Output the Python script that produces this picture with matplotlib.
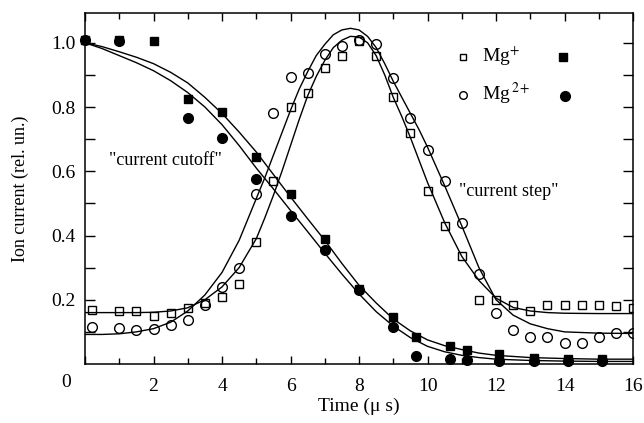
import matplotlib
matplotlib.use("Agg")
import matplotlib.pyplot as plt

plt.rcParams.update({
    "font.family": "Liberation Serif", "mathtext.fontset": "stix",
    "font.size": 13, "axes.linewidth": 1.1,
})

# ---- measured points (time in us, ion current rel. un.) ----
t_open = [0.2, 1.0, 1.5, 2.0, 2.5, 3.0, 3.5, 4.0, 4.5, 5.0, 5.5, 6.0, 6.5, 7.0, 7.5, 8.0,
          8.5, 9.0, 9.5, 10.0, 10.5, 11.0, 11.5, 12.0, 12.5, 13.0, 13.5, 14.0, 14.5, 15.0, 15.5, 16.0]
mg1_step = [0.168, 0.165, 0.165, 0.15, 0.16, 0.175, 0.19, 0.21, 0.25, 0.38, 0.57, 0.80, 0.845, 0.92, 0.96, 1.005,
            0.96, 0.83, 0.72, 0.54, 0.43, 0.335, 0.20, 0.20, 0.185, 0.165, 0.185, 0.185, 0.185, 0.185, 0.18, 0.175]
mg2_step = [0.115, 0.113, 0.105, 0.11, 0.12, 0.137, 0.185, 0.24, 0.30, 0.53, 0.78, 0.895, 0.905, 0.965, 0.99, 1.01,
            0.995, 0.89, 0.765, 0.665, 0.57, 0.44, 0.28, 0.16, 0.105, 0.085, 0.085, 0.065, 0.065, 0.083, 0.095, 0.095]

t_mg1_cut = [0, 1, 2, 3, 4, 5, 6, 7, 8, 9, 9.65, 10.65, 11.15, 12.1, 13.1, 14.1, 15.1]
mg1_cut = [1.01, 1.01, 1.005, 0.825, 0.785, 0.645, 0.53, 0.39, 0.235, 0.145, 0.085, 0.055, 0.045, 0.03, 0.02, 0.015, 0.015]
t_mg2_cut = [0, 1, 3, 4, 5, 6, 7, 8, 9, 9.65, 10.65, 11.15, 12.1, 13.1, 14.1, 15.1]
mg2_cut = [1.01, 1.005, 0.765, 0.705, 0.575, 0.46, 0.355, 0.23, 0.115, 0.025, 0.017, 0.012, 0.01, 0.008, 0.008, 0.008]

# ---- fitted curves ----
t_fit_step = [0, 0.5, 1, 1.5, 2, 2.5, 3, 3.5, 4, 4.5, 5, 5.25, 5.5, 5.75, 6, 6.25, 6.5, 6.75, 7, 7.25, 7.5,
              7.75, 8, 8.25, 8.5, 8.75, 9, 9.25, 9.5, 9.75, 10, 10.5, 11, 11.5, 12, 12.5, 13, 13.5, 14, 15, 16]
fit_mg1_step = [0.16, 0.16, 0.16, 0.16, 0.161, 0.165, 0.175, 0.2, 0.24, 0.3, 0.39, 0.455, 0.525, 0.6, 0.68, 0.76,
                0.835, 0.895, 0.945, 0.985, 1.008, 1.02, 1.018, 1.0, 0.96, 0.9, 0.83, 0.77, 0.705, 0.635, 0.565,
                0.44, 0.335, 0.26, 0.205, 0.176, 0.165, 0.16, 0.158, 0.157, 0.157]
fit_mg2_step = [0.092, 0.092, 0.094, 0.1, 0.11, 0.13, 0.165, 0.215, 0.285, 0.385, 0.515, 0.58, 0.65, 0.72, 0.79, 0.855,
                0.91, 0.96, 0.995, 1.025, 1.04, 1.045, 1.04, 1.02, 0.985, 0.935, 0.88, 0.83, 0.78, 0.73, 0.675,
                0.555, 0.43, 0.3, 0.2, 0.152, 0.125, 0.11, 0.1, 0.096, 0.095]

t_fit_cut = [0, 0.5, 1, 1.5, 2, 2.5, 3, 3.5, 4, 4.5, 5, 5.5, 6, 6.5, 7, 7.5, 8, 8.5, 9, 9.5, 10,
             10.5, 11, 11.5, 12, 13, 14, 15, 16]
fit_mg1_cut = [1.0, 0.988, 0.972, 0.955, 0.935, 0.908, 0.875, 0.83, 0.78, 0.722, 0.66, 0.59, 0.52, 0.452, 0.385,
               0.313, 0.245, 0.19, 0.14, 0.103, 0.075, 0.057, 0.045, 0.034, 0.027, 0.02, 0.017, 0.015, 0.015]
fit_mg2_cut = [1.0, 0.982, 0.96, 0.938, 0.913, 0.882, 0.845, 0.8, 0.745, 0.68, 0.61, 0.545, 0.478, 0.412, 0.345,
               0.28, 0.218, 0.163, 0.118, 0.082, 0.055, 0.038, 0.027, 0.02, 0.015, 0.011, 0.009, 0.008, 0.008]

x_major = [0, 2, 4, 6, 8, 10, 12, 14, 16]
y_major = [0.2, 0.4, 0.6, 0.8, 1.0]


def main():
    fig = plt.figure(figsize=(6.44, 4.23), dpi=100)
    ax = fig.add_axes([0.132, 0.1395, 0.851, 0.830])

    for t, y in ((t_fit_step, fit_mg1_step), (t_fit_step, fit_mg2_step),
                 (t_fit_cut, fit_mg1_cut), (t_fit_cut, fit_mg2_cut)):
        ax.plot(t, y, color="black", lw=1.0)

    ax.plot(t_open, mg1_step, ls="none", marker="s", ms=6, mfc="none", mec="black", mew=1.0)
    ax.plot(t_open, mg2_step, ls="none", marker="o", ms=7, mfc="none", mec="black", mew=1.0)
    ax.plot(t_mg1_cut, mg1_cut, ls="none", marker="s", ms=6.2, color="black", clip_on=False)
    ax.plot(t_mg2_cut, mg2_cut, ls="none", marker="o", ms=7, color="black", clip_on=False)

    # legend drawn by hand: open marker, label, filled marker
    tr = ax.transAxes
    ax.plot([0.69], [0.875], transform=tr, marker="s", ms=5, mfc="none", mec="black", mew=1.0)
    ax.plot([0.872], [0.875], transform=tr, marker="s", ms=6, color="black")
    ax.plot([0.69], [0.766], transform=tr, marker="o", ms=5.5, mfc="none", mec="black", mew=1.0)
    ax.plot([0.876], [0.764], transform=tr, marker="o", ms=7, color="black")
    ax.text(0.725, 0.878, r"Mg$^{+}$", transform=tr, va="center", ha="left", fontsize=14)
    ax.text(0.725, 0.769, r"Mg$^{\,2+}$", transform=tr, va="center", ha="left", fontsize=14)

    ax.text(2.34, 0.635, '"current cutoff"', ha="center", va="center", fontsize=13)
    ax.text(12.38, 0.536, '"current step"', ha="center", va="center", fontsize=13)

    ax.set_xlim(0, 16)
    ax.set_ylim(0, 1.093)
    ax.set_xticks(x_major)
    ax.set_xticklabels([""] + [str(v) for v in x_major[1:]])
    ax.set_xticks(range(0, 17), minor=True)
    ax.set_yticks(y_major)
    ax.set_yticklabels([f"{v:.1f}" for v in y_major])
    ax.set_yticks([i / 10 for i in range(1, 11)], minor=True)
    ax.tick_params(which="both", direction="in", top=True, right=True, width=1.0, labelsize=14)
    ax.tick_params(axis="x", which="major", length=6, pad=10)
    ax.tick_params(axis="x", which="minor", length=4)
    ax.tick_params(axis="y", which="both", length=7, pad=7)
    # the shared "0" at the lower-left corner
    ax.text(-0.55, -0.029, "0", transform=ax.get_xaxis_transform(), ha="center", va="top", fontsize=14)

    ax.set_xlabel("Time (μ s)", fontsize=14, labelpad=2)
    ax.set_ylabel("Ion current (rel. un.)", fontsize=13, labelpad=16)

    fig.savefig("out.png", dpi=100)
    plt.close(fig)


if __name__ == "__main__":
    main()
